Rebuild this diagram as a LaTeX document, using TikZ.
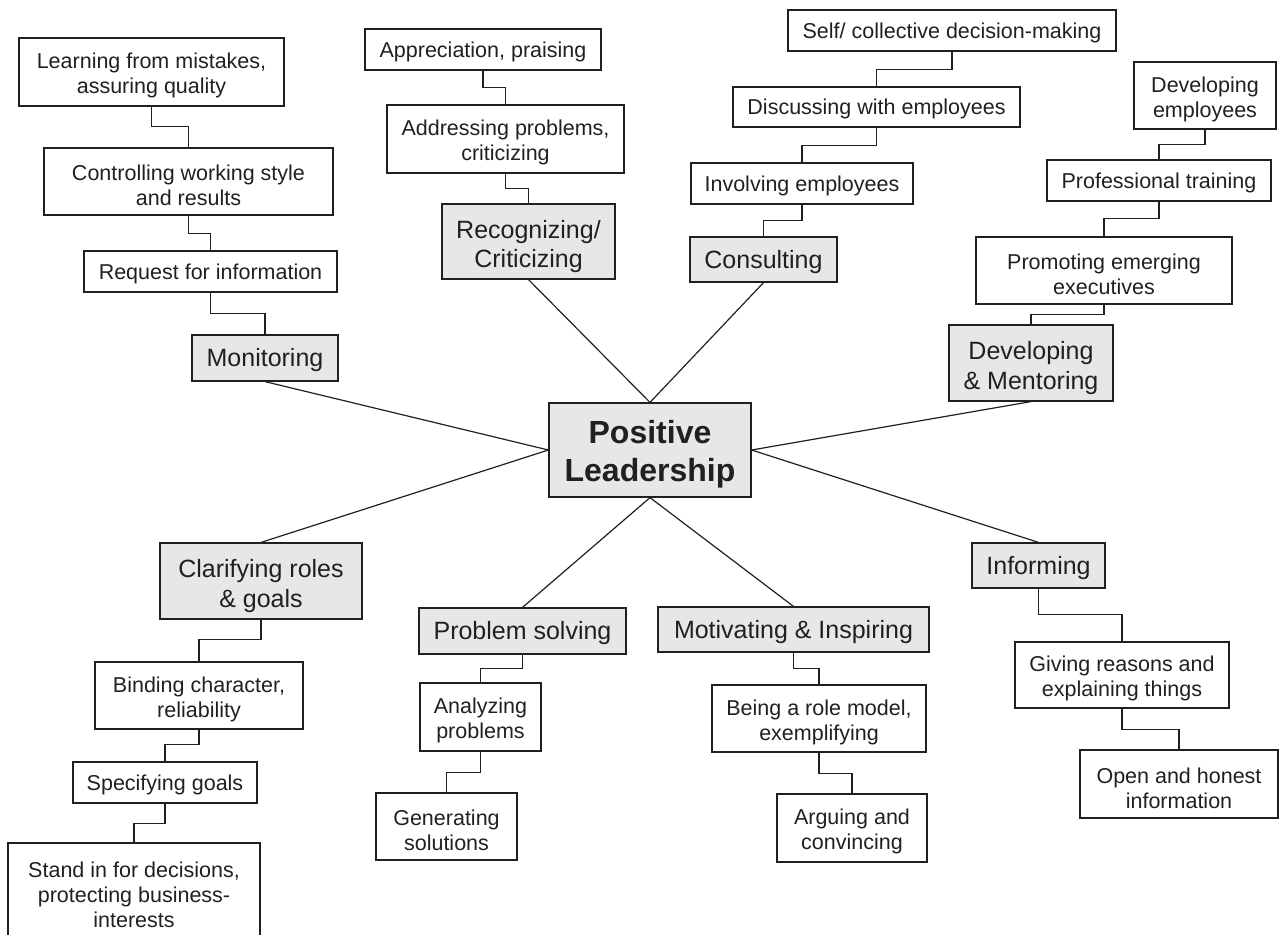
\documentclass[tikz,border=0pt]{standalone}
\usepackage{fontspec}
\setmainfont{Liberation Sans}
\definecolor{gfill}{HTML}{E6E7E8}
\definecolor{ink}{HTML}{231F20}
\tikzset{
  leaf/.style={draw=ink, line width=1.2pt, inner sep=0pt, align=center, text=ink,
               font=\fontsize{21.5}{25}\selectfont,
               execute at begin node={\rule{0pt}{0.92em}}},
  cat/.style={leaf, fill=gfill, font=\fontsize{25}{29.5}\selectfont},
  hub/.style={leaf, fill=gfill, font=\bfseries\fontsize{32}{38}\selectfont},
  link/.style={draw=ink, line width=1.2pt}
}
\newcommand\padtop[1]{\rule{0pt}{#1em}}
\newcommand\elbowlink[3]{\draw[link] (#1.south) -- ++(0,#3) -| (#2.north);}
\begin{document}
\begin{tikzpicture}[x=1pt,y=-1pt]
\useasboundingbox (0,0) rectangle (1279,934);
% hub
\node[hub, minimum width=202, minimum height=94] (hub) at (650,450) {\padtop{0.98}Positive\\Leadership};
% Monitoring branch
\node[leaf, minimum width=265, minimum height=68] (L1) at (151.5,72) {\padtop{1.08}Learning from mistakes,\\assuring quality};
\node[leaf, minimum width=289, minimum height=67] (L2) at (188.5,181.5) {\padtop{1.08}Controlling working style\\and results};
\node[leaf, minimum width=253, minimum height=41] (L3) at (210.5,271.5) {Request for information};
\node[cat, minimum width=146, minimum height=46] (mon) at (265,358) {Monitoring};
% Recognizing branch
\node[leaf, minimum width=236, minimum height=41] (R1) at (483,49.5) {Appreciation, praising};
\node[leaf, minimum width=237, minimum height=68] (R2) at (505.5,139) {\padtop{1.08}Addressing problems,\\criticizing};
\node[cat, minimum width=173, minimum height=75] (rec) at (528.5,241.5) {\padtop{1.14}Recognizing/\\Criticizing};
% Consulting branch
\node[leaf, minimum width=328, minimum height=41] (C1) at (952,30.5) {Self/ collective decision-making};
\node[leaf, minimum width=287, minimum height=40] (C2) at (876.5,107) {Discussing with employees};
\node[leaf, minimum width=222, minimum height=41] (C3) at (802,183.5) {Involving employees};
\node[cat, minimum width=147, minimum height=45] (con) at (763.5,259.5) {Consulting};
% Developing branch
\node[leaf, minimum width=142, minimum height=67] (D1) at (1205,95.5) {\padtop{1.08}Developing\\employees};
\node[leaf, minimum width=224, minimum height=41] (D2) at (1159,180.5) {Professional training};
\node[leaf, minimum width=256, minimum height=67] (D3) at (1104,270.5) {\padtop{1.08}Promoting emerging\\executives};
\node[cat, minimum width=164, minimum height=76] (dev) at (1031,363) {\padtop{1.14}Developing\\\& Mentoring};
% Clarifying branch
\node[cat, minimum width=202, minimum height=76] (cla) at (261,581) {\padtop{1.14}Clarifying roles\\\& goals};
\node[leaf, minimum width=208, minimum height=67] (K1) at (199,695.5) {\padtop{1.08}Binding character,\\reliability};
\node[leaf, minimum width=184, minimum height=41] (K2) at (165,782.5) {Specifying goals};
\node[leaf, minimum width=252, minimum height=95] (K3) at (134,890.5) {\padtop{1.08}Stand in for decisions,\\protecting business-\\interests};
% Problem solving branch
\node[cat, minimum width=207, minimum height=46] (pro) at (522.5,631) {Problem solving};
\node[leaf, minimum width=121, minimum height=68] (P1) at (480.5,717) {\padtop{1.08}Analyzing\\problems};
\node[leaf, minimum width=141, minimum height=67] (P2) at (446.5,826.5) {\padtop{1.08}Generating\\solutions};
% Motivating branch
\node[cat, minimum width=271, minimum height=45] (mot) at (793.5,629.5) {Motivating \& Inspiring};
\node[leaf, minimum width=214, minimum height=67] (M1) at (819,718.5) {\padtop{1.08}Being a role model,\\exemplifying};
\node[leaf, minimum width=150, minimum height=68] (M2) at (852,828) {\padtop{1.08}Arguing and\\convincing};
% Informing branch
\node[cat, minimum width=133, minimum height=45] (inf) at (1038.5,565.5) {Informing};
\node[leaf, minimum width=214, minimum height=66] (I1) at (1122,675) {\padtop{1.08}Giving reasons and\\explaining things};
\node[leaf, minimum width=198, minimum height=68] (I2) at (1179,784) {\padtop{1.08}Open and honest\\information};
% spokes
\draw[link] (mon.south) -- (hub.west);
\draw[link] (cla.north) -- (hub.west);
\draw[link] (rec.south) -- (hub.north);
\draw[link] (con.south) -- (hub.north);
\draw[link] (dev.south) -- (hub.east);
\draw[link] (inf.north) -- (hub.east);
\draw[link] (pro.north) -- (hub.south);
\draw[link] (mot.north) -- (hub.south);
% elbows
\elbowlink{L1}{L2}{20}
\elbowlink{L2}{L3}{18}
\elbowlink{L3}{mon}{21}
\elbowlink{R1}{R2}{17}
\elbowlink{R2}{rec}{15}
\elbowlink{C1}{C2}{18}
\elbowlink{C2}{C3}{18}
\elbowlink{C3}{con}{16}
\elbowlink{D1}{D2}{15}
\elbowlink{D2}{D3}{17}
\elbowlink{D3}{dev}{10}
\elbowlink{cla}{K1}{20}
\elbowlink{K1}{K2}{15}
\elbowlink{K2}{K3}{20}
\elbowlink{pro}{P1}{14}
\elbowlink{P1}{P2}{21}
\elbowlink{mot}{M1}{16}
\elbowlink{M1}{M2}{21}
\elbowlink{inf}{I1}{26}
\elbowlink{I1}{I2}{21}
\end{tikzpicture}
\end{document}
